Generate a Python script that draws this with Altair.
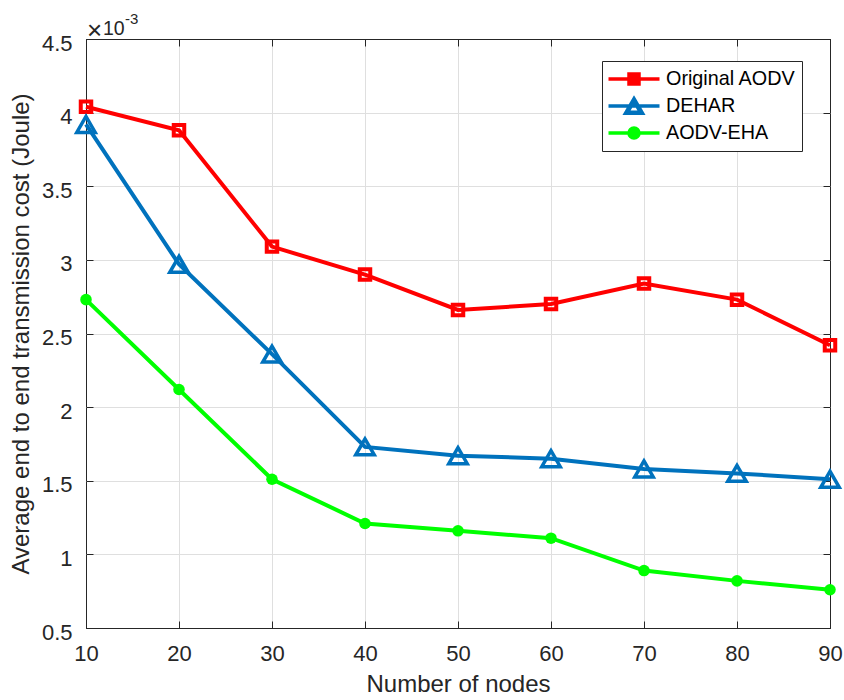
import altair as alt
import pandas as pd

# Network size on the x axis
nodes = [10, 20, 30, 40, 50, 60, 70, 80, 90]

# Average end-to-end transmission cost, in units of 1e-3 J
original_aodv = [4.04, 3.88, 3.09, 2.90, 2.66, 2.70, 2.84, 2.73, 2.42]
dehar = [3.92, 2.97, 2.36, 1.73, 1.67, 1.65, 1.58, 1.55, 1.51]
aodv_eha = [2.73, 2.12, 1.51, 1.21, 1.16, 1.11, 0.89, 0.82, 0.76]

series_names = ["Original AODV", "DEHAR", "AODV-EHA"]
series_colors = ["#ff0000", "#0072bd", "#00ff00"]

x_ticks = [10, 20, 30, 40, 50, 60, 70, 80, 90]
y_ticks = [0.5, 1, 1.5, 2, 2.5, 3, 3.5, 4, 4.5]

# axis multiplier pieces: "×", "10", superscript "-3"
exponent_times = ["×"]
exponent_base = ["10"]
exponent_power = ["-3"]

rows = []
for name, values in zip(series_names, [original_aodv, dehar, aodv_eha]):
    for n, v in zip(nodes, values):
        rows.append({"nodes": n, "cost": v, "series": name})
df = pd.DataFrame(rows)

FONT = "Liberation Sans"
INK = "#262626"
GRID = "#dfdfdf"
W, H = 744, 589

x_scale = alt.Scale(domain=[10, 90], nice=False, zero=False)
y_scale = alt.Scale(domain=[0.5, 4.5], nice=False, zero=False)
color_scale = alt.Scale(domain=series_names, range=series_colors)

# grid lines on the plot edges double as the dark box
x_grid_color = {"condition": {"test": "datum.value === 10 || datum.value === 90", "value": INK}, "value": GRID}
y_grid_color = {"condition": {"test": "datum.value === 0.5 || datum.value === 4.5", "value": INK}, "value": GRID}


def inward_ticks(orient, values):
    # tick-only axis pulled inside the plot so ticks point inwards
    return alt.Axis(orient=orient, values=values, offset=-7, tickSize=7, tickWidth=1,
                    tickColor=INK, labels=False, domain=False, grid=False, title=None)


# legend glyphs: a line segment with the series marker (unit = 10 px);
# hollow markers are drawn as rings so they stay hollow whatever the fill
legend_paths = {
    "Original AODV": ("M-2.55,0H2.55"
                      "M-0.5,-0.5H0.5V0.5H-0.5Z"
                      "M-0.33,-0.33V0.33H0.33V-0.33Z"),
    "DEHAR": ("M-2.55,0H2.55"
              "M0,-0.736L0.85,0.736L-0.85,0.736Z"
              "M0,-0.491L-0.6375,0.613L0.6375,0.613Z"),
    "AODV-EHA": ("M-2.55,0H2.55"
                 "M0.5,0A0.5,0.5 0 1 1 -0.5,0A0.5,0.5 0 1 1 0.5,0Z"
                 "M0.2,0A0.2,0.2 0 1 1 -0.2,0A0.2,0.2 0 1 1 0.2,0Z"),
}
symbol_expr = (
    f"datum.value === '{series_names[0]}' ? '{legend_paths[series_names[0]]}' : "
    f"datum.value === '{series_names[1]}' ? '{legend_paths[series_names[1]]}' : "
    f"'{legend_paths[series_names[2]]}'"
)

legend = alt.Legend(
    title=None, orient="none", legendX=516, legendY=22, direction="vertical",
    fillColor="white", strokeColor=INK, cornerRadius=0, padding=6,
    symbolType={"expr": symbol_expr}, symbolSize=400, symbolStrokeWidth=3.5,
    symbolFillColor="transparent", symbolOffset=14, labelOffset=20, rowPadding=0,
    labelFont=FONT, labelFontSize=19.8, labelColor="#000000", labelLimit=400,
)

lines = alt.Chart(df).mark_line(strokeWidth=4).encode(
    x=alt.X("nodes:Q", scale=x_scale, axis=alt.Axis(
        orient="bottom", values=x_ticks, grid=True, gridColor=x_grid_color, gridWidth=1,
        ticks=False, tickSize=0, domain=False, labelFont=FONT, labelFontSize=22,
        labelColor=INK, labelPadding=15, labelFlush=False, labelOverlap=False,
        title="Number of nodes", titleFont=FONT, titleFontSize=24, titleFontWeight="normal",
        titleColor=INK, titlePadding=8)),
    y=alt.Y("cost:Q", scale=y_scale, axis=alt.Axis(
        orient="left", values=y_ticks, format="~g", grid=True, gridColor=y_grid_color,
        gridWidth=1, ticks=False, tickSize=0, domain=False, labelFont=FONT,
        labelFontSize=22, labelColor=INK, labelPadding=14, labelOffset=4,
        labelFlush=False, labelOverlap=False,
        title="Average end to end transmission cost (Joule)", titleFont=FONT,
        titleFontSize=24, titleFontWeight="normal", titleColor=INK, titlePadding=8)),
    color=alt.Color("series:N", scale=color_scale, legend=legend),
)

squares = alt.Chart(df).transform_filter(
    alt.datum.series == series_names[0]
).mark_point(shape="square", size=110, strokeWidth=4, filled=False, opacity=1).encode(
    x=alt.X("nodes:Q", scale=x_scale, axis=inward_ticks("bottom", x_ticks)),
    y=alt.Y("cost:Q", scale=y_scale, axis=inward_ticks("left", y_ticks)),
    color=alt.Color("series:N", scale=color_scale, legend=None),
)

triangles = alt.Chart(df).transform_filter(
    alt.datum.series == series_names[1]
).mark_point(shape="triangle-up", size=340, strokeWidth=3.5, filled=False, opacity=1).encode(
    x=alt.X("nodes:Q", scale=x_scale, axis=inward_ticks("top", x_ticks)),
    y=alt.Y("cost:Q", scale=y_scale, axis=inward_ticks("right", y_ticks)),
    color=alt.Color("series:N", scale=color_scale, legend=None),
)

circles = alt.Chart(df).transform_filter(
    alt.datum.series == series_names[2]
).mark_point(shape="circle", size=133, filled=True, opacity=1).encode(
    x=alt.X("nodes:Q", scale=x_scale, axis=None),
    y=alt.Y("cost:Q", scale=y_scale, axis=None),
    color=alt.Color("series:N", scale=color_scale, legend=None),
)

# axis multiplier written above the y axis
exp_times = alt.Chart(pd.DataFrame({"t": exponent_times})).mark_text(
    align="left", baseline="alphabetic", font=FONT, fontSize=26, color=INK
).encode(x=alt.value(1), y=alt.value(-0.5), text="t:N")

exp_base = alt.Chart(pd.DataFrame({"t": exponent_base})).mark_text(
    align="left", baseline="alphabetic", font=FONT, fontSize=19.5, color=INK
).encode(x=alt.value(17), y=alt.value(-4), text="t:N")

exp_power = alt.Chart(pd.DataFrame({"t": exponent_power})).mark_text(
    align="left", baseline="alphabetic", font=FONT, fontSize=15, color=INK
).encode(x=alt.value(39), y=alt.value(-15.5), text="t:N")

chart = alt.layer(
    lines, squares, triangles, circles, exp_times, exp_base, exp_power
).resolve_axis(
    x="independent", y="independent"
).properties(
    width=W, height=H,
    padding={"left": 86, "top": 39, "right": 14, "bottom": 72},
    autosize=alt.AutoSizeParams(type="none"),
    background="white",
).configure_view(stroke=INK, strokeWidth=1)

chart.save("out.html", embed_options={"renderer": "svg", "actions": False})
